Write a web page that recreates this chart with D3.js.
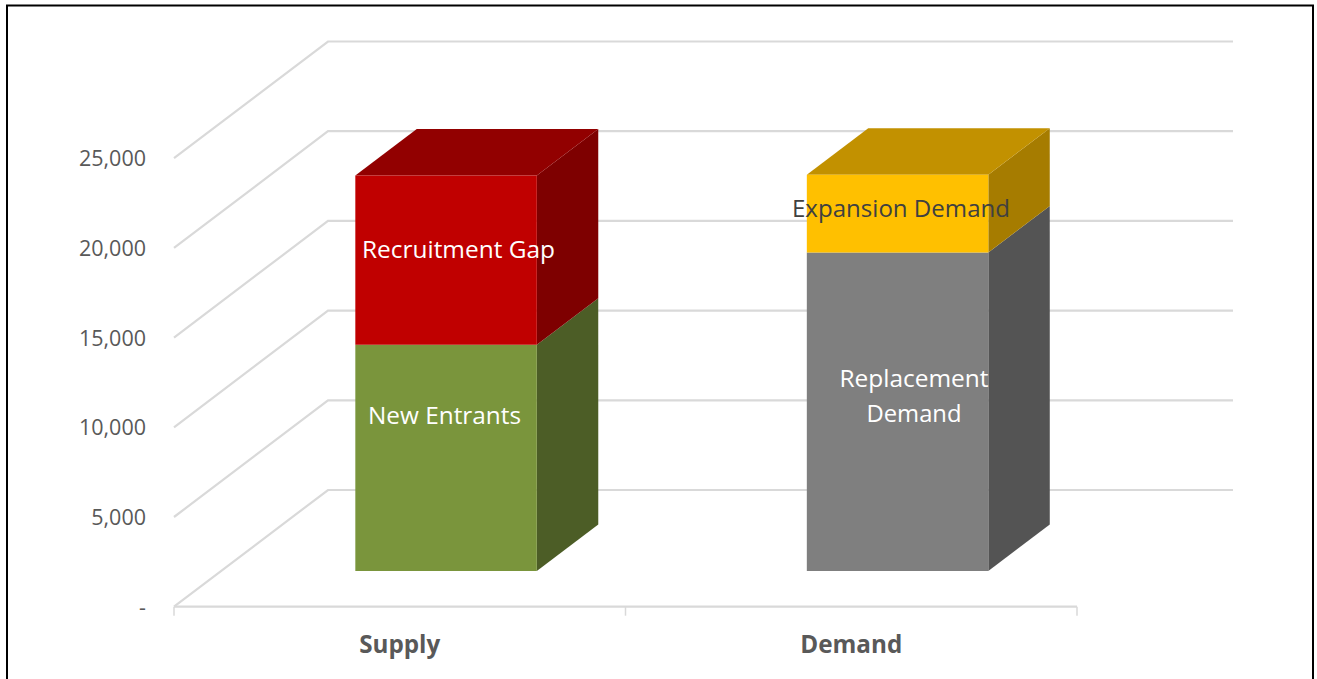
<!DOCTYPE html>
<html><head><meta charset="utf-8">
<script src="https://cdn.jsdelivr.net/npm/d3@7"></script>
<style>html,body{margin:0;padding:0;background:#fff;overflow:hidden}svg{display:block}text{font-family:"Open Sans",sans-serif}</style>
</head><body><svg id="c" width="1317" height="679"></svg>
<script>
const categories = ["Supply", "Demand"];
const seriesNames = ["New Entrants", "Recruitment Gap", "Replacement Demand", "Expansion Demand"];
const segCategory = ["Supply", "Supply", "Demand", "Demand"];
const segValues = [12610, 9430, 17750, 4340];
const segFront = ["#7a953c", "#c00000", "#7f7f7f", "#ffc000"];
const segSide = ["#4c5d26", "#7e0000", "#545454", "#a67c00"];
const segTop = ["#7a953c", "#920000", "#7f7f7f", "#c29100"];
const yTicks = [0, 5000, 10000, 15000, 20000, 25000];

// layout
const W = 1317, H = 679;
const svg = d3.select("#c");
const y = d3.scaleLinear().domain([0, 25000]).range([606.7, 158.2]);
const x = d3.scaleBand().domain(categories).range([174, 1077]);
const depthX = d3.scaleLinear().domain([0, 1]).range([0, 154]);
const depthY = d3.scaleLinear().domain([0, 1]).range([0, -116.7]);
const gapWidthFrac = 0.402, dFront = 0.306, dBack = 0.705, gridRight = 1233, barShift = -0.8;
const P = (px, v, d) => [px + depthX(d), y(v) + depthY(d)];
const grid = "#d9d9d9";
const line = d3.line();

// frame
svg.append("path").attr("d", `M7,${H}V5.5H1313V${H}`).attr("fill", "none").attr("stroke", "#000").attr("stroke-width", 2);

// gridlines
const g = svg.append("g").attr("fill", "none").attr("stroke", grid).attr("stroke-width", 2.2);
yTicks.forEach(t => {
  g.append("path").attr("d", line([P(x.range()[0], t, 0), P(x.range()[0], t, 1), [gridRight, y(t) + depthY(1)]]));
});
g.append("path").attr("d", line([[x.range()[0], y(0)], [x.range()[1], y(0)]]));
[...categories.map(c => x(c)), x.range()[1]].forEach(px => {
  g.append("line").attr("x1", px).attr("x2", px).attr("y1", y(0)).attr("y2", y(0) + 9).attr("stroke-width", 1.5);
});

// bars
const stackBase = {};
segValues.forEach((v, i) => {
  const c = segCategory[i], base = stackBase[c] || 0, top = base + v;
  stackBase[c] = top;
  const w = x.bandwidth() * gapWidthFrac;
  const l = x(c) + (x.bandwidth() - w) / 2 + barShift, r = l + w;
  const bar = svg.append("g");
  const poly = (pts, f) => bar.append("path").attr("d", line(pts) + "Z").attr("fill", f);
  poly([P(r, base, dFront), P(r, base, dBack), P(r, top, dBack), P(r, top, dFront)], segSide[i]);
  if (i === 1 || i === 3) poly([P(l, top, dFront), P(r, top, dFront), P(r, top, dBack), P(l, top, dBack)], segTop[i]);
  poly([P(l, base, dFront), P(r, base, dFront), P(r, top, dFront), P(l, top, dFront)], segFront[i]);
});

// axes
const yAxis = d3.axisLeft(y).tickValues(yTicks).tickSize(0).tickPadding(28)
  .tickFormat(d => d === 0 ? "-" : d3.format(",")(d));
svg.append("g").attr("transform", "translate(174,0.8)").call(yAxis)
  .call(s => s.select(".domain").remove())
  .call(s => s.selectAll("text").attr("fill", "#595959").style("font-size", "21.5px").style("font-family", '"Open Sans"'));

const xAxis = d3.axisBottom(x).tickSize(0).tickPadding(0);
svg.append("g").attr("transform", `translate(0,${y(0)})`).call(xAxis)
  .call(s => s.select(".domain").remove())
  .call(s => s.selectAll("text").attr("y", 46).attr("dy", 0).attr("fill", "#595959").style("font-size", "25px").style("font-weight", 700).style("font-family", '"Open Sans"'))
  .call(s => s.selectAll(".tick text").attr("textLength", (d, i) => [81, 102][i]).attr("lengthAdjust", "spacingAndGlyphs"));

// labels
const labelText = ["New Entrants", "Recruitment Gap", "Replacement", "Demand", "Expansion Demand"];
const labelX = [444.5, 458.5, 914, 914, 901];
const labelY = [424, 258, 387, 422, 217];
const labelLen = [153, 193, 149, 95, 218];
const labelFill = ["#fff", "#fff", "#fff", "#fff", "#404040"];
svg.append("g").selectAll("text").data(labelText).join("text")
  .attr("x", (d, i) => labelX[i]).attr("y", (d, i) => labelY[i])
  .attr("text-anchor", "middle").attr("fill", (d, i) => labelFill[i])
  .attr("textLength", (d, i) => labelLen[i]).attr("lengthAdjust", "spacingAndGlyphs")
  .style("font-size", "24px").text(d => d);
</script></body></html>
